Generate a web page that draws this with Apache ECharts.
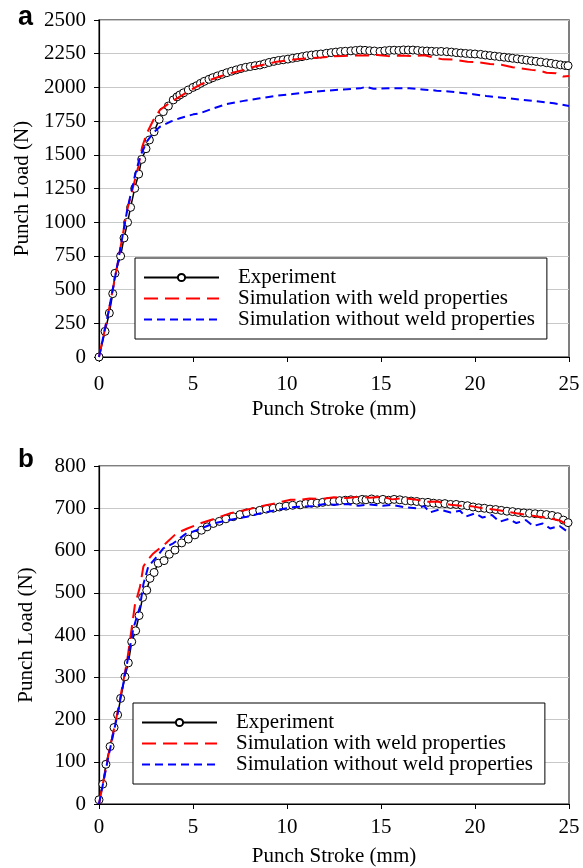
<!DOCTYPE html>
<html>
<head>
<meta charset="utf-8">
<script src="https://cdn.jsdelivr.net/npm/echarts@6/dist/echarts.min.js"></script>
<style>
html,body{margin:0;padding:0;background:#fff;}
#chart{width:583px;height:868px;}
</style>
</head>
<body>
<div id="chart"></div>
<script>
// ---------- data ----------
var seriesNames = ['Experiment', 'Simulation with weld properties', 'Simulation without weld properties'];
var xTicks = [0, 5, 10, 15, 20, 25];

// Panel a
var expA = [[0,0],[0.32,190],[0.55,326],[0.73,470],[0.85,621],[1.15,749],[1.33,883],[1.52,999],[1.68,1110],[1.9,1251],[2.11,1357],[2.27,1466],[2.5,1545],[2.68,1610],[2.93,1671],[3.2,1763],[3.42,1820],[3.69,1862],[3.95,1907],[4.15,1930],[4.3,1944],[4.5,1960],[4.75,1981],[5.0,2000],[5.2,2013],[5.4,2030],[5.6,2045],[5.85,2060],[6.05,2072],[6.3,2085],[6.55,2097],[6.8,2109],[7.05,2120],[7.3,2130],[7.55,2140],[7.8,2149],[8.05,2155],[8.3,2161],[8.56,2166],[8.8,2175],[9.05,2185],[9.3,2193],[9.55,2200],[9.8,2205],[10.05,2210],[10.3,2216],[10.55,2222],[10.8,2228],[11.05,2235],[11.3,2240],[11.55,2244],[11.8,2248],[12.1,2253],[12.35,2258],[12.6,2262],[12.85,2266],[13.1,2268],[13.4,2271],[13.65,2274],[13.9,2277],[14.15,2275],[14.4,2272],[14.65,2270],[14.95,2267],[15.2,2272],[15.45,2275],[15.7,2276],[15.95,2274],[16.2,2278],[16.45,2277],[16.7,2277],[16.95,2274],[17.2,2271],[17.45,2270],[17.7,2268],[17.95,2266],[18.2,2267],[18.5,2265],[18.75,2262],[19.0,2258],[19.25,2255],[19.5,2252],[19.75,2250],[20.0,2248],[20.3,2245],[20.55,2240],[20.8,2236],[21.05,2232],[21.3,2228],[21.55,2224],[21.8,2220],[22.0,2216],[22.25,2212],[22.5,2207],[22.75,2202],[23.0,2197],[23.25,2193],[23.5,2188],[23.8,2183],[24.05,2178],[24.3,2172],[24.55,2167],[24.8,2162],[24.95,2161]];
var simWeldA = [[0,0],[0.5,330],[1.0,700],[1.5,1090],[2.09,1412],[2.3,1560],[2.54,1659],[2.9,1760],[3.24,1832],[3.8,1890],[4.3,1931],[4.8,1975],[5.37,2018],[5.9,2055],[6.5,2085],[7.1,2108],[7.7,2129],[8.3,2155],[8.9,2172],[9.45,2191],[10.0,2200],[10.6,2210],[11.2,2216],[11.8,2222],[12.4,2230],[13.0,2233],[13.6,2237],[14.2,2236],[14.8,2240],[15.4,2232],[16.0,2236],[16.7,2233],[17.3,2238],[17.8,2222],[18.3,2208],[18.9,2206],[19.6,2191],[20.2,2186],[20.8,2174],[21.4,2168],[22.0,2150],[22.4,2142],[23.0,2130],[23.5,2122],[23.8,2109],[24.3,2105],[24.7,2080],[25,2085]];
var simNoWeldA = [[0,0],[0.5,330],[1.0,700],[1.5,1090],[1.9,1340],[2.18,1486],[2.54,1597],[2.9,1665],[3.24,1708],[3.78,1745],[4.3,1771],[5.02,1800],[5.37,1808],[6.1,1845],[6.8,1877],[7.7,1900],[8.56,1919],[9.4,1937],[10.3,1951],[11.2,1965],[12.1,1976],[13.0,1985],[13.9,1993],[14.2,2005],[14.6,1990],[15.5,1993],[16.5,1993],[17.2,1985],[17.96,1976],[18.6,1970],[19.2,1961],[19.9,1950],[20.6,1936],[21.6,1922],[22.6,1907],[23.4,1895],[24.2,1882],[25,1862]];

// Panel b
var expB = [[0,10],[0.2,47],[0.37,94],[0.59,136],[0.8,181],[0.99,211],[1.15,250],[1.38,301],[1.56,334],[1.74,384],[1.95,410],[2.13,446],[2.32,489],[2.54,506],[2.71,534],[2.93,548],[3.15,570],[3.46,576],[3.74,591],[4.04,601],[4.4,618],[4.75,627],[5.1,637],[5.45,648],[5.75,656],[6.08,664],[6.4,669],[6.75,675],[7.14,680],[7.5,685],[7.85,689],[8.2,692],[8.55,695],[8.9,698],[9.27,700],[9.6,703],[9.95,705],[10.3,707],[10.7,708],[11.0,711],[11.3,712],[11.6,712],[11.9,714],[12.2,716],[12.5,716],[12.8,718],[13.1,719],[13.4,720],[13.7,719],[14.0,721],[14.2,720],[14.5,722],[14.8,720],[15.1,721],[15.4,719],[15.7,721],[16.0,720],[16.3,718],[16.6,717],[16.9,716],[17.2,714],[17.5,714],[17.8,712],[18.1,711],[18.4,711],[18.7,709],[19.0,709],[19.3,707],[19.6,706],[19.9,703],[20.2,701],[20.5,700],[20.8,698],[21.1,697],[21.4,695],[21.7,693],[22.0,692],[22.3,690],[22.6,689],[22.9,688],[23.2,687],[23.5,686],[23.8,685],[24.1,683],[24.4,680],[24.7,672],[24.95,666]];
var simWeldB = [[0,0],[0.5,115],[1.0,220],[1.5,340],[1.91,471],[2.18,514],[2.36,562],[2.54,575],[2.89,593],[3.5,615],[4.13,641],[4.7,652],[5.37,664],[6.2,676],[6.97,688],[7.8,696],[8.56,704],[9.4,712],[10.2,720],[10.7,720],[11.2,723],[11.8,722],[12.5,726],[13.2,724],[13.8,727],[14.4,725],[15.1,727],[15.6,721],[16.2,724],[16.9,720],[17.4,715],[18.0,716],[18.7,708],[19.2,706],[19.8,705],[20.4,700],[21.0,697],[21.6,693],[22.2,688],[22.8,684],[23.4,680],[24.0,676],[24.5,671],[24.9,662],[25,668]];
var simNoWeldB = [[0,0],[0.5,112],[1.0,215],[1.5,335],[1.83,416],[2.18,467],[2.36,520],[2.62,562],[3.07,585],[3.42,605],[3.95,617],[4.66,641],[5.02,645],[6.08,664],[7.0,673],[7.86,680],[8.6,688],[9.45,696],[10.4,703],[11.4,705],[12.0,710],[12.5,708],[13.2,710],[13.8,706],[14.4,709],[15.1,706],[15.6,708],[16.3,702],[16.9,700],[17.3,705],[17.6,690],[18.1,697],[18.7,690],[19.2,694],[19.5,680],[20.0,688],[20.4,678],[20.9,684],[21.3,668],[21.8,675],[22.2,665],[22.7,672],[23.1,658],[23.6,664],[24.0,652],[24.5,658],[24.9,645],[25,648]];

// ---------- chart ----------
var FONT = '"Liberation Serif", "Times New Roman", serif';
var FS = 21;
var chart = echarts.init(document.getElementById('chart'), null, {renderer: 'canvas'});
var plain = function (v) { return String(v); };

function xAxis(gi, labelMargin) {
  return {
    type: 'value', gridIndex: gi, min: 0, max: 25, interval: 5,
    name: 'Punch Stroke (mm)', nameLocation: 'middle', nameGap: 42,
    nameTextStyle: {fontFamily: FONT, fontSize: FS, color: '#000'},
    axisLine: {show: true, lineStyle: {color: '#000', width: 1.2}},
    axisTick: {show: true, inside: false, length: 5, lineStyle: {color: '#000'}},
    axisLabel: {fontFamily: FONT, fontSize: FS, color: '#000', margin: labelMargin, formatter: plain},
    splitLine: {show: false}
  };
}
function yAxis(gi, max, interval) {
  return {
    type: 'value', gridIndex: gi, min: 0, max: max, interval: interval,
    name: 'Punch Load (N)', nameLocation: 'middle', nameGap: 62,
    nameTextStyle: {fontFamily: FONT, fontSize: FS, color: '#000'},
    axisLine: {show: true, lineStyle: {color: '#000', width: 1.2}},
    axisTick: {show: true, inside: false, length: 5, lineStyle: {color: '#000'}},
    axisLabel: {fontFamily: FONT, fontSize: FS, color: '#000', margin: 13, formatter: plain},
    splitLine: {show: true, lineStyle: {color: '#c8c8c8', width: 1}}
  };
}
function expSeries(data, i) {
  return {
    name: seriesNames[0], type: 'line', xAxisIndex: i, yAxisIndex: i, data: data,
    symbol: 'circle', symbolSize: 8, showSymbol: true,
    lineStyle: {color: '#000', width: 1.5},
    itemStyle: {color: '#fff', borderColor: '#000', borderWidth: 1},
    z: 2
  };
}
function simSeries(name, data, i, color, dash, w) {
  return {
    name: name, type: 'line', xAxisIndex: i, yAxisIndex: i, data: data,
    symbol: 'none',
    lineStyle: {color: color, width: w, type: dash},
    itemStyle: {color: color},
    z: 3
  };
}
function legend(left, top) {
  return {
    orient: 'vertical', left: left, top: top,
    data: [
      {name: seriesNames[0]},
      {name: seriesNames[1], itemStyle: {opacity: 0}},
      {name: seriesNames[2], itemStyle: {opacity: 0}}
    ],
    itemWidth: 75, itemHeight: 9, itemGap: 0,
    padding: [9, 12, 9, 8],
    borderColor: '#000', borderWidth: 1, backgroundColor: '#fff',
    textStyle: {fontFamily: FONT, fontSize: FS, color: '#000', lineHeight: 20, padding: [0, 0, 0, 14]}
  };
}

var option = {
  animation: false,
  backgroundColor: '#fff',
  grid: [
    {left: 99, right: 14, top: 20, height: 337, show: true, borderColor: '#555', borderWidth: 1.5, backgroundColor: 'transparent'},
    {left: 99, right: 14, top: 466, height: 338, show: true, borderColor: '#555', borderWidth: 1.5, backgroundColor: 'transparent'}
  ],
  xAxis: [xAxis(0, 17), xAxis(1, 13)],
  yAxis: [yAxis(0, 2500, 250), yAxis(1, 800, 100)],
  legend: [legend(135, 258), legend(133, 703)],
  graphic: [
    {type: 'text', left: 18, top: 4, style: {text: 'a', fontFamily: '"Liberation Sans", Arial, sans-serif', fontWeight: 'bold', fontSize: 27, fill: '#000'}},
    {type: 'text', left: 18, top: 447, style: {text: 'b', fontFamily: '"Liberation Sans", Arial, sans-serif', fontWeight: 'bold', fontSize: 26, fill: '#000'}}
  ],
  series: [
    expSeries(expA, 0),
    simSeries(seriesNames[1], simWeldA, 0, '#ff0000', [14, 7], 2),
    simSeries(seriesNames[2], simNoWeldA, 0, '#0000ff', [8, 5], 2),
    expSeries(expB, 1),
    simSeries(seriesNames[1], simWeldB, 1, '#ff0000', [14, 7], 2),
    simSeries(seriesNames[2], simNoWeldB, 1, '#0000ff', [8, 5], 2)
  ]
};
chart.setOption(option);
</script>
</body>
</html>
